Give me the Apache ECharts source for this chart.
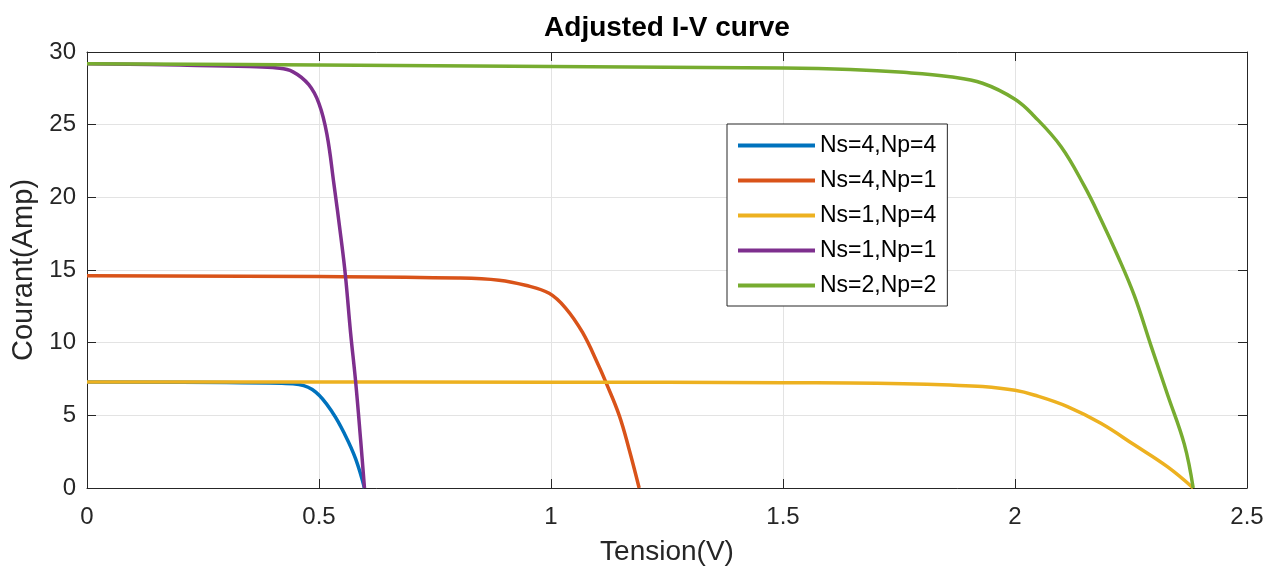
<!DOCTYPE html>
<html>
<head>
<meta charset="utf-8">
<script src="https://cdn.jsdelivr.net/npm/echarts@6/dist/echarts.min.js"></script>
<style>
  html, body { margin: 0; padding: 0; background: #ffffff; }
  #chart { width: 1269px; height: 571px; }
</style>
</head>
<body>
<div id="chart"></div>
<script>
// Tick values
var xTicks = [0, 0.5, 1, 1.5, 2, 2.5];
var yTicks = [0, 5, 10, 15, 20, 25, 30];

// Series names (legend order)
var seriesNames = ['Ns=4,Np=4', 'Ns=4,Np=1', 'Ns=1,Np=4', 'Ns=1,Np=1', 'Ns=2,Np=2'];

// Ns=4,Np=4 (blue)
var vBlue = [0, 0.3, 0.42, 0.457, 0.493, 0.529, 0.557, 0.579, 0.598];
var iBlue = [7.3, 7.26, 7.2, 7.12, 6.6, 5.2, 3.6, 2.0, 0];

// Ns=4,Np=1 (orange)
var vOrange = [0, 0.5, 0.8, 0.888, 0.945, 0.996, 1.031, 1.068, 1.103, 1.118, 1.147, 1.168, 1.19];
var iOrange = [14.6, 14.55, 14.45, 14.3, 13.95, 13.4, 12.4, 10.7, 8.4, 7.3, 5.0, 2.7, 0];

// Ns=1,Np=4 (yellow)
var vYellow = [0, 1.0, 1.5, 1.645, 1.76, 1.86, 1.93, 2.0, 2.041, 2.113, 2.185, 2.257, 2.329, 2.384];
var iYellow = [7.3, 7.28, 7.25, 7.22, 7.17, 7.08, 6.98, 6.72, 6.4, 5.6, 4.45, 2.97, 1.45, 0];

// Ns=1,Np=1 (purple)
var vPurple = [0, 0.2, 0.35, 0.41, 0.443, 0.478, 0.5, 0.517, 0.532, 0.547, 0.557, 0.568, 0.579, 0.59, 0.598];
var iPurple = [29.2, 29.1, 29.0, 28.9, 28.65, 27.75, 26.45, 24.35, 20.95, 17.3, 14.6, 10.7, 7.3, 3.2, 0];

// Ns=2,Np=2 (green)
var vGreen = [0, 0.5, 1.0, 1.5, 1.645, 1.76, 1.86, 1.93, 2.0, 2.041, 2.099, 2.149, 2.185, 2.221, 2.257, 2.293, 2.329, 2.365, 2.384];
var iGreen = [29.2, 29.1, 29.0, 28.9, 28.8, 28.6, 28.3, 27.85, 26.75, 25.6, 23.5, 20.8, 18.5, 16.0, 13.25, 9.8, 6.4, 3.0, 0];

var colors = ['#0072BD', '#D95319', '#EDB120', '#7E2F8E', '#77AC30'];

function zip(v, i) { return v.map(function (x, k) { return [x, i[k]]; }); }
var allData = [zip(vBlue, iBlue), zip(vOrange, iOrange), zip(vYellow, iYellow), zip(vPurple, iPurple), zip(vGreen, iGreen)];

var FONT = '"Liberation Sans", Arial, Helvetica, sans-serif';
var TXT = '#262626';

var chart = echarts.init(document.getElementById('chart'), null, { renderer: 'canvas' });

function fmt(v) { return String(v); }

var option = {
  animation: false,
  backgroundColor: '#ffffff',
  textStyle: { fontFamily: FONT, color: TXT },
  title: {
    text: 'Adjusted I-V curve',
    left: 667,
    textAlign: 'center',
    top: 14,
    padding: 0,
    textStyle: { fontFamily: FONT, fontWeight: 'bold', fontSize: 28, color: '#000000' }
  },
  grid: { left: 87, right: 22, top: 52, bottom: 81, show: false, containLabel: false },
  legend: {
    data: seriesNames,
    orient: 'vertical',
    left: 727,
    top: 124,
    padding: [10, 11, 9, 11],
    itemGap: 12,
    itemWidth: 77,
    itemHeight: 4,
    icon: 'rect',
    borderColor: TXT,
    borderWidth: 1,
    borderRadius: 0,
    backgroundColor: '#ffffff',
    textStyle: { fontFamily: FONT, fontSize: 23, color: '#000000', lineHeight: 23, padding: [0, 0, 0, 0] }
  },
  xAxis: [
    {
      type: 'value', min: 0, max: 2.5, interval: 0.5, position: 'bottom',
      name: 'Tension(V)', nameLocation: 'middle', nameGap: 50,
      nameTextStyle: { fontFamily: FONT, fontSize: 28, color: TXT },
      axisLine: { show: true, onZero: false, lineStyle: { color: TXT, width: 1 } },
      axisTick: { show: true, inside: true, length: 9, lineStyle: { color: TXT } },
      axisLabel: { fontFamily: FONT, fontSize: 24, color: TXT, margin: 17, formatter: fmt },
      splitLine: { show: true, lineStyle: { color: '#e3e3e3', width: 1 } }
    },
    {
      type: 'value', min: 0, max: 2.5, interval: 0.5, position: 'top',
      axisLine: { show: true, onZero: false, lineStyle: { color: TXT, width: 1 } },
      axisTick: { show: true, inside: true, length: 9, lineStyle: { color: TXT } },
      axisLabel: { show: false },
      splitLine: { show: false }
    }
  ],
  yAxis: [
    {
      type: 'value', min: 0, max: 30, interval: 5, position: 'left',
      name: 'Courant(Amp)', nameLocation: 'middle', nameGap: 49,
      nameTextStyle: { fontFamily: FONT, fontSize: 29, color: TXT },
      axisLine: { show: true, onZero: false, lineStyle: { color: TXT, width: 1 } },
      axisTick: { show: true, inside: true, length: 9, lineStyle: { color: TXT } },
      axisLabel: { fontFamily: FONT, fontSize: 24, color: TXT, margin: 11, formatter: fmt },
      splitLine: { show: true, lineStyle: { color: '#e3e3e3', width: 1 } }
    },
    {
      type: 'value', min: 0, max: 30, interval: 5, position: 'right',
      axisLine: { show: true, onZero: false, lineStyle: { color: TXT, width: 1 } },
      axisTick: { show: true, inside: true, length: 9, lineStyle: { color: TXT } },
      axisLabel: { show: false },
      splitLine: { show: false }
    }
  ],
  series: seriesNames.map(function (name, k) {
    return {
      name: name,
      type: 'line',
      xAxisIndex: 0,
      yAxisIndex: 0,
      data: allData[k],
      showSymbol: false,
      symbol: 'none',
      smooth: 0.4,
      color: colors[k],
      lineStyle: { color: colors[k], width: 3.5 },
      itemStyle: { color: colors[k] },
      z: 2 + k
    };
  })
};

chart.setOption(option);
</script>
</body>
</html>
